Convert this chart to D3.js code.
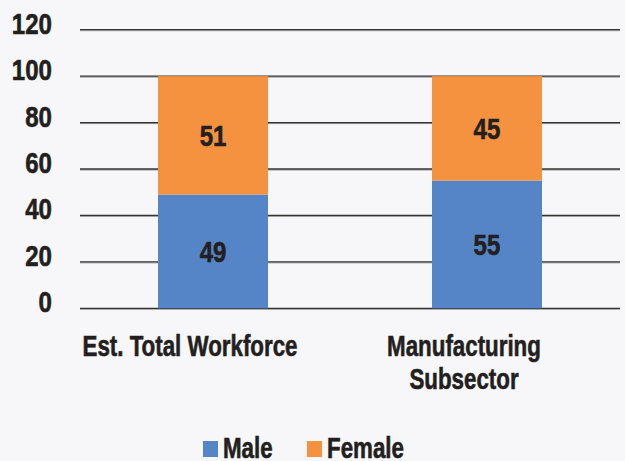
<!DOCTYPE html>
<html>
<head>
<meta charset="utf-8">
<script src="https://cdn.jsdelivr.net/npm/d3@7"></script>
<style>
html, body { margin: 0; padding: 0; background: #f7f7f9; }
svg { display: block; }
text { font-family: "Liberation Sans", Arial, sans-serif; font-weight: bold; fill: #231f20; stroke: #231f20; stroke-width: 0.6px; }
</style>
</head>
<body>
<svg id="chart" width="625" height="461"></svg>
<script>
const categories = ["Est. Total Workforce", "Manufacturing\nSubsector"];
const seriesNames = ["Male", "Female"];
const maleValues = [49, 55];
const femaleValues = [51, 45];
const yTicks = [0, 20, 40, 60, 80, 100, 120];
const colors = ["#5585c6", "#f4923f"];

const svg = d3.select("#chart");
const x0 = 80, x1 = 620, yTop = 29.7, yBot = 308.3;
const FS = 29, KW = 0.77, KN = 0.83;
const catLabelShift = -23;

const x = d3.scaleBand().domain(categories).range([x0, x1])
  .paddingInner(0.5985).paddingOuter(0.2847);
const y = d3.scaleLinear().domain([0, 120]).range([yBot, yTop]);

function scaledText(parent, px, py, str, k, anchor) {
  const g = parent.append("g").attr("transform", `translate(${px},${py}) scale(${k},1)`);
  return g.append("text").attr("x", 0).attr("y", 0)
    .attr("text-anchor", anchor).attr("font-size", FS).text(str);
}

// gridlines
const grid = svg.append("g");
grid.selectAll("line.shadow").data(yTicks).join("line").attr("class", "shadow")
  .attr("x1", x0).attr("x2", x1)
  .attr("y1", d => y(d) + 1).attr("y2", d => y(d) + 1)
  .attr("stroke", "#9a9a9a").attr("stroke-width", 1);
grid.selectAll("line.main").data(yTicks).join("line").attr("class", "main")
  .attr("x1", x0).attr("x2", x1)
  .attr("y1", d => y(d)).attr("y2", d => y(d))
  .attr("stroke", "#333").attr("stroke-width", 1.3);

// y axis labels
const yAxis = d3.axisLeft(y).tickValues(yTicks).tickSize(0).tickPadding(0);
const ya = svg.append("g").attr("transform", "translate(52,0)").call(yAxis)
  .attr("font-family", null).attr("font-size", null);
ya.select(".domain").remove();
ya.selectAll(".tick text")
  .attr("x", 0).attr("y", 3.5).attr("dy", null)
  .attr("font-size", FS).attr("fill", "#231f20")
  .attr("transform", `scale(${KN},1)`);

// stacked data
const table = categories.map((c, i) => ({ cat: c, Male: maleValues[i], Female: femaleValues[i] }));
const stack = d3.stack().keys(seriesNames)(table);

const layers = svg.append("g").selectAll("g").data(stack).join("g")
  .attr("fill", (d, i) => colors[i]);
layers.selectAll("rect").data(d => d).join("rect")
  .attr("x", d => x(d.data.cat))
  .attr("width", x.bandwidth())
  .attr("y", d => y(d[1]))
  .attr("height", d => y(d[0]) - y(d[1]));

// value labels
const lbl = svg.append("g");
stack.forEach(layer => {
  layer.forEach(d => {
    scaledText(lbl, x(d.data.cat) + x.bandwidth() / 2, y((d[0] + d[1]) / 2) + 10.5,
      d[1] - d[0], KN, "middle");
  });
});

// x axis labels
const xAxis = d3.axisBottom(x).tickSize(0).tickFormat("");
const xa = svg.append("g").attr("transform", `translate(0,${yBot})`).call(xAxis);
xa.select(".domain").remove();
const xl = svg.append("g");
categories.forEach(c => {
  c.split("\n").forEach((ln, i) => {
    scaledText(xl, x(c) + x.bandwidth() / 2 + catLabelShift, 356 + i * 33, ln, KW, "middle");
  });
});

// legend
const leg = svg.append("g");
const legX = [203, 307];
seriesNames.forEach((s, i) => {
  leg.append("rect").attr("x", legX[i]).attr("y", 441).attr("width", 15).attr("height", 16)
    .attr("fill", colors[i]);
  scaledText(leg, legX[i] + 20, 457.5, s, KW, "start");
});
</script>
</body>
</html>
